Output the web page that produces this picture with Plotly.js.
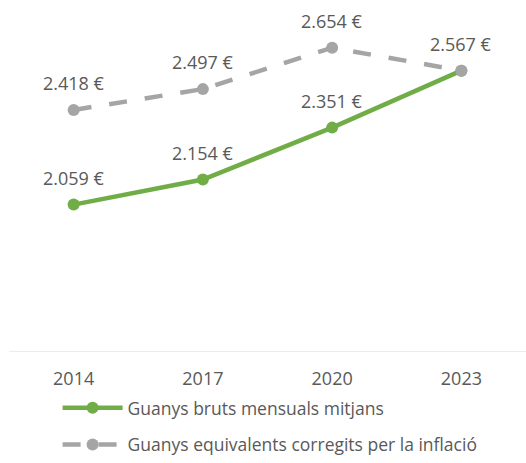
<!DOCTYPE html>
<html>
<head>
<meta charset="utf-8">
<script src="https://cdn.plot.ly/plotly-3.0.1.min.js"></script>
<style>html,body{margin:0;padding:0;background:#fff;}#chart{width:526px;height:463px;}</style>
</head>
<body>
<div id="chart"></div>
<script>
const years = ['2014', '2017', '2020', '2023'];
const nominal = [2059, 2154, 2351, 2567];
const realAdj = [2418, 2497, 2654, 2567];
const nominalName = 'Guanys bruts mensuals mitjans';
const realName = 'Guanys equivalents corregits per la inflació';
const nominalLabels = ['2.059 €', '2.154 €', '2.351 €', ''];
const realLabels = ['2.418 €', '2.497 €', '2.654 €', '2.567 €'];

const FONT = 'Open Sans, Noto Sans, sans-serif';
const TXT = '#595959';

const traces = [
  {
    x: years, y: nominal, name: nominalName, type: 'scatter', mode: 'lines+markers',
    legendgroup: 'a',
    line: {color: '#70AD47', width: 4.5},
    marker: {color: '#70AD47', size: 12}
  },
  {
    x: years, y: realAdj, name: realName, type: 'scatter', mode: 'lines+markers',
    legendgroup: 'b',
    line: {color: '#A5A5A5', width: 4.5, dash: '18px,18px'},
    marker: {color: '#A5A5A5', size: 12}
  }
];

const annotations = [];
years.forEach((yr, i) => {
  if (nominalLabels[i]) annotations.push({x: i, y: nominal[i], text: nominalLabels[i], showarrow: false, yshift: 27, font: {family: FONT, size: 18, color: TXT}});
  if (realLabels[i]) annotations.push({x: i, y: realAdj[i], text: realLabels[i], showarrow: false, yshift: 27, font: {family: FONT, size: 18, color: TXT}});
});

const layout = {
  width: 526, height: 463,
  margin: {l: 9, r: 0, t: 0, b: 111, autoexpand: false},
  paper_bgcolor: '#fff', plot_bgcolor: '#fff',
  showlegend: true,
  legend: {orientation: 'v', traceorder: 'grouped', x: 0.094, xanchor: 'left', y: -0.3153, yanchor: 'bottom',
           itemwidth: 60,
           font: {family: FONT, size: 17.5, color: TXT}, tracegroupgap: 11},
  xaxis: {type: 'category', range: [-0.5, 3.5], showgrid: false, zeroline: false, automargin: false,
          showline: false, ticks: 'outside', ticklen: 10, tickcolor: 'rgba(0,0,0,0)',
          tickfont: {family: FONT, size: 18, color: TXT}},
  yaxis: {range: [1500, 2835], showgrid: false, zeroline: false, showline: false, automargin: false,
          showticklabels: false, ticks: ''},
  shapes: [{type: 'line', xref: 'paper', yref: 'y', x0: 0, x1: 1, y0: 1500, y1: 1500,
            line: {color: '#D9D9D9', width: 1}}],
  annotations: annotations
};

Plotly.newPlot('chart', traces, layout, {displayModeBar: false, staticPlot: true});
</script>
</body>
</html>
